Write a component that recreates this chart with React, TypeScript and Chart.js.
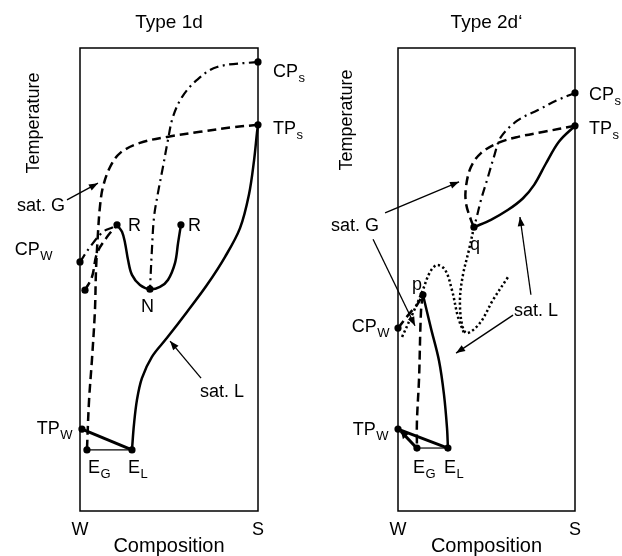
import React, { useEffect, useRef } from "react";
import { Chart, registerables } from "chart.js";

Chart.register(...registerables);

type P = [number, number];
type Align = "left" | "right" | "center";
interface Lbl { t: string; s?: string; x: number; y: number; a: Align }

// ---------- Type 1d (left panel) ----------
const L_CRIT: P[] = [[100, 97.0], [77.0, 95.9], [65.7, 93.1], [57.3, 89.4], [52.2, 85.1], [49.4, 80.1], [46.6, 74.3], [43.8, 68.7], [41.6, 63.5], [40.4, 56.4], [39.3, 47.9]];
const L_CRIT_W: P[] = [[0, 53.8], [5.6, 57.0], [12.9, 60.3], [18.5, 61.3], [20.8, 61.8]];
const L_SATG: P[] = [[100, 83.4], [86.0, 82.9], [67.4, 81.9], [48.9, 80.8], [33.7, 79.5], [22.5, 77.3], [16.9, 74.3], [12.9, 70.0], [11.2, 65.7], [10.1, 60.0], [9.0, 52.1], [8.4, 43.4], [6.7, 32.6], [5.1, 24.0], [3.9, 13.2]];
const L_SATG_W: P[] = [[2.8, 47.7], [6.7, 50.5], [9.6, 55.7], [15.2, 59.2], [19.7, 61.3], [20.8, 61.8]];
const L_LLG: P[] = [[20.8, 61.8], [23.6, 60.3], [25.3, 57.9], [27.0, 54.2], [29.2, 51.0], [33.7, 48.8], [39.3, 47.9], [44.9, 48.4], [49.4, 49.9], [53.4, 53.6], [55.1, 57.9], [56.7, 61.8]];
const L_SATL: P[] = [[100, 83.4], [99.4, 81.6], [97.8, 75.8], [94.9, 68.3], [89.9, 61.1], [81.5, 54.9], [71.3, 48.8], [60.1, 43.0], [48.9, 37.4], [40.4, 33.3], [34.8, 28.7], [32.0, 24.0], [30.3, 18.6], [29.2, 13.2]];
const L_TPW_EL: P[] = [[1.1, 17.7], [29.2, 13.2]];
const L_EG_EL: P[] = [[3.9, 13.2], [29.2, 13.2]];
const L_POINTS: P[] = [[100, 97.0], [100, 83.4], [0, 53.8], [2.8, 47.7], [20.8, 61.8], [56.7, 61.8], [39.3, 47.9], [1.1, 17.7], [3.9, 13.2], [29.2, 13.2]];
const L_ARROW_G: P[] = [[-7.3, 67.2], [10.1, 70.8]];
const L_ARROW_L: P[] = [[68.0, 28.7], [50.6, 36.7]];
const L_LABELS: Lbl[] = [
  { t: "CP", s: "s", x: 108.4, y: 95.2, a: "left" },
  { t: "TP", s: "s", x: 108.4, y: 82.7, a: "left" },
  { t: "CP", s: "W", x: -15.7, y: 56.6, a: "right" },
  { t: "TP", s: "W", x: -4.5, y: 18.1, a: "right" },
  { t: "E", s: "G", x: 4.5, y: 9.6, a: "left" },
  { t: "E", s: "L", x: 27.0, y: 9.6, a: "left" },
  { t: "R", x: 27.0, y: 61.8, a: "left" },
  { t: "R", x: 60.7, y: 61.8, a: "left" },
  { t: "N", x: 37.9, y: 44.3, a: "center" },
  { t: "sat. G", x: -8.4, y: 66.1, a: "right" },
  { t: "sat. L", x: 67.4, y: 26.1, a: "left" },
];

// ---------- Type 2d' (right panel) ----------
const R_CRIT: P[] = [[100, 90.3], [90.4, 88.8], [79.1, 86.6], [67.8, 84.4], [58.2, 80.8], [54.2, 76.5], [50.8, 72.1], [46.9, 67.2], [44.1, 62.9], [42.9, 61.3]];
const R_SATG: P[] = [[100, 83.2], [82.5, 81.9], [67.8, 80.8], [56.5, 79.5], [46.9, 77.3], [41.2, 74.3], [38.4, 70.0], [38.4, 66.5], [41.2, 62.9], [42.9, 61.3]];
const R_SATL: P[] = [[42.9, 61.3], [52.5, 62.9], [62.0, 65.0], [70.5, 67.5], [77.0, 70.5], [83.5, 75.0], [91.0, 79.8], [100, 83.2]];
const R_DOT_A: P[] = [[2.3, 37.6], [8.5, 42.8], [13.6, 47.3], [18.1, 51.6], [22.0, 53.1], [26.6, 52.1], [30.5, 47.7], [33.9, 41.9], [37.3, 38.4]];
const R_DOT_B: P[] = [[42.9, 61.3], [40.1, 56.4], [36.7, 51.0], [35.0, 45.6], [36.2, 40.2], [39.0, 38.4], [46.3, 40.6], [53.7, 45.6], [62.1, 50.5]];
const R_SATG_W: P[] = [[0, 39.5], [6.8, 42.8], [10.7, 44.5], [14.1, 46.7]];
const R_SATG_LOW: P[] = [[14.1, 46.7], [13.0, 43.2], [11.9, 28.7], [10.7, 19.4], [10.7, 13.6]];
const R_SATL_LOW: P[] = [[14.1, 46.7], [18.6, 39.5], [23.2, 32.4], [26.0, 25.1], [27.7, 17.9], [28.2, 13.6]];
const R_TPW_EL: P[] = [[0, 17.7], [28.2, 13.6]];
const R_EG_EL: P[] = [[10.7, 13.6], [28.2, 13.6]];
const R_POINTS: P[] = [[100, 90.3], [100, 83.2], [42.9, 61.3], [14.1, 46.7], [0, 39.5], [0, 17.7], [10.7, 13.6], [28.2, 13.6]];
const R_ARROW_G1: P[] = [[-7.3, 64.4], [34.5, 71.1]];
const R_ARROW_G2: P[] = [[-14.1, 58.7], [9.6, 40.0]];
const R_ARROW_L1: P[] = [[75.1, 46.7], [68.9, 63.5]];
const R_ARROW_L2: P[] = [[65.0, 42.3], [32.8, 34.1]];
const R_ARROW_SMALL: P[] = [[9.6, 14.0], [1.7, 17.2]];
const R_LABELS: Lbl[] = [
  { t: "CP", s: "s", x: 107.9, y: 90.1, a: "left" },
  { t: "TP", s: "s", x: 107.9, y: 82.9, a: "left" },
  { t: "q", x: 43.5, y: 57.8, a: "center" },
  { t: "p", x: 10.7, y: 49.1, a: "center" },
  { t: "CP", s: "W", x: -5.1, y: 40.0, a: "right" },
  { t: "TP", s: "W", x: -5.6, y: 17.9, a: "right" },
  { t: "E", s: "G", x: 8.5, y: 9.6, a: "left" },
  { t: "E", s: "L", x: 26.0, y: 9.6, a: "left" },
  { t: "sat. G", x: -10.7, y: 61.8, a: "right" },
  { t: "sat. L", x: 65.5, y: 43.4, a: "left" },
];

const X_TICKS = [{ v: 0, t: "W" }, { v: 100, t: "S" }];

const FONT = '"Liberation Sans", Arial, Helvetica, sans-serif';

type Style = "solid" | "thick" | "dash" | "dashdot" | "dot" | "thin" | "arrow";
const STYLES: Record<Style, { w: number; d: number[] }> = {
  solid: { w: 2.5, d: [] },
  thick: { w: 3, d: [] },
  dash: { w: 2.5, d: [9, 5] },
  dashdot: { w: 2.2, d: [9, 4.5, 2, 4.5] },
  dot: { w: 2.5, d: [2.2, 2.6] },
  thin: { w: 1.2, d: [] },
  arrow: { w: 1.3, d: [] },
};

function line(data: P[], style: Style, arrow = false) {
  const s = STYLES[style];
  return {
    data: data.map(([x, y]) => ({ x, y })),
    showLine: true,
    borderColor: "#000",
    backgroundColor: "#000",
    borderWidth: s.w,
    borderDash: s.d,
    pointRadius: 0,
    tension: data.length > 2 ? 0.35 : 0,
    clip: false,
    arrow,
  } as any;
}

function pointsSet(data: P[]) {
  return {
    data: data.map(([x, y]) => ({ x, y })),
    showLine: false,
    pointRadius: 3.6,
    pointBackgroundColor: "#000",
    pointBorderColor: "#000",
    pointBorderWidth: 0,
    clip: false,
    order: -1,
  } as any;
}

interface PanelCfg {
  title: string;
  datasets: any[];
  labels: Lbl[];
  pad: { left: number; right: number; top: number; bottom: number };
  tempDX: number;
  tempY: number;
}

const LEFT: PanelCfg = {
  title: "Type 1d",
  datasets: [
    pointsSet(L_POINTS),
    line(L_CRIT, "dashdot"),
    line(L_CRIT_W, "dashdot"),
    line(L_SATG, "dash"),
    line(L_SATG_W, "dash"),
    line(L_LLG, "solid"),
    line(L_SATL, "solid"),
    line(L_TPW_EL, "thick"),
    line(L_EG_EL, "thin"),
    line(L_ARROW_G, "arrow", true),
    line(L_ARROW_L, "arrow", true),
  ],
  labels: L_LABELS,
  pad: { left: 80, right: 53, top: 48, bottom: 45 },
  tempDX: 46,
  tempY: 123,
};

const RIGHT: PanelCfg = {
  title: "Type 2d\u2018",
  datasets: [
    pointsSet(R_POINTS),
    line(R_CRIT, "dashdot"),
    line(R_SATG, "dash"),
    line(R_SATL, "solid"),
    line(R_DOT_A, "dot"),
    line(R_DOT_B, "dot"),
    line(R_SATG_W, "dash"),
    line(R_SATG_LOW, "dash"),
    line(R_SATL_LOW, "solid"),
    line(R_TPW_EL, "thick"),
    line(R_EG_EL, "thin"),
    line(R_ARROW_G1, "arrow", true),
    line(R_ARROW_G2, "arrow", true),
    line(R_ARROW_L1, "arrow", true),
    line(R_ARROW_L2, "arrow", true),
    line(R_ARROW_SMALL, "thick", true),
  ],
  labels: R_LABELS,
  pad: { left: 87, right: 47, top: 48, bottom: 45 },
  tempDX: 51,
  tempY: 120,
};

function drawLabel(ctx: CanvasRenderingContext2D, l: Lbl, px: number, py: number) {
  const main = `18px ${FONT}`;
  const sub = `13px ${FONT}`;
  ctx.font = main;
  const w1 = ctx.measureText(l.t).width;
  let w2 = 0;
  if (l.s) { ctx.font = sub; w2 = ctx.measureText(l.s).width; }
  const total = w1 + w2;
  let x0 = px;
  if (l.a === "right") x0 = px - total;
  else if (l.a === "center") x0 = px - total / 2;
  const base = py + 6.4;
  ctx.textAlign = "left";
  ctx.textBaseline = "alphabetic";
  ctx.font = main;
  ctx.fillText(l.t, x0, base);
  if (l.s) { ctx.font = sub; ctx.fillText(l.s, x0 + w1 + 0.5, base + 5); }
}

function makePlugin(cfg: PanelCfg) {
  return {
    id: "schematic",
    beforeDatasetsDraw(chart: any) {
      const { ctx, chartArea: a } = chart;
      ctx.save();
      ctx.strokeStyle = "#000";
      ctx.lineWidth = 1.5;
      ctx.strokeRect(a.left, a.top, a.right - a.left, a.bottom - a.top);
      ctx.restore();
    },
    afterDatasetsDraw(chart: any) {
      const { ctx, chartArea: a, scales } = chart;
      const xs = scales.x, ys = scales.y;
      ctx.save();
      ctx.fillStyle = "#000";
      // arrow heads
      chart.data.datasets.forEach((ds: any, i: number) => {
        if (!ds.arrow) return;
        const els = chart.getDatasetMeta(i).data;
        const p1 = els[els.length - 2], p2 = els[els.length - 1];
        const ang = Math.atan2(p2.y - p1.y, p2.x - p1.x);
        const len = ds.borderWidth > 2 ? 7 : 9, hw = ds.borderWidth > 2 ? 4 : 3.5;
        ctx.beginPath();
        ctx.moveTo(p2.x, p2.y);
        ctx.lineTo(p2.x - len * Math.cos(ang) + hw * Math.sin(ang), p2.y - len * Math.sin(ang) - hw * Math.cos(ang));
        ctx.lineTo(p2.x - len * Math.cos(ang) - hw * Math.sin(ang), p2.y - len * Math.sin(ang) + hw * Math.cos(ang));
        ctx.closePath();
        ctx.fill();
      });
      // point labels
      cfg.labels.forEach((l) => drawLabel(ctx, l, xs.getPixelForValue(l.x), ys.getPixelForValue(l.y)));
      // axis texts
      ctx.textAlign = "center";
      ctx.textBaseline = "middle";
      ctx.font = `18px ${FONT}`;
      X_TICKS.forEach((t) => ctx.fillText(t.t, xs.getPixelForValue(t.v), a.bottom + 19));
      ctx.font = `20px ${FONT}`;
      ctx.fillText("Composition", (a.left + a.right) / 2, a.bottom + 35);
      ctx.font = `19px ${FONT}`;
      ctx.fillText(cfg.title, (a.left + a.right) / 2, 23);
      ctx.save();
      ctx.translate(a.left - cfg.tempDX, cfg.tempY);
      ctx.rotate(-Math.PI / 2);
      ctx.font = `18px ${FONT}`;
      ctx.fillText("Temperature", 0, 0);
      ctx.restore();
      ctx.restore();
    },
  };
}

function Panel({ cfg }: { cfg: PanelCfg }) {
  const ref = useRef<HTMLCanvasElement>(null);
  useEffect(() => {
    const chart = new Chart(ref.current as HTMLCanvasElement, {
      type: "scatter",
      data: { datasets: cfg.datasets },
      options: {
        animation: false,
        responsive: false,
        events: [],
        layout: { padding: cfg.pad },
        scales: {
          x: { type: "linear", min: 0, max: 100, display: false },
          y: { type: "linear", min: 0, max: 100, display: false },
        },
        plugins: { legend: { display: false }, tooltip: { enabled: false } },
      } as any,
      plugins: [makePlugin(cfg)],
    });
    return () => chart.destroy();
  }, []);
  return <canvas ref={ref} width={311} height={556} style={{ display: "block", width: 311, height: 556 }} />;
}

export default function App() {
  return (
    <div style={{ position: "fixed", left: 0, top: 0, width: 622, height: 556, background: "#fff", display: "flex" }}>
      <Panel cfg={LEFT} />
      <Panel cfg={RIGHT} />
    </div>
  );
}
